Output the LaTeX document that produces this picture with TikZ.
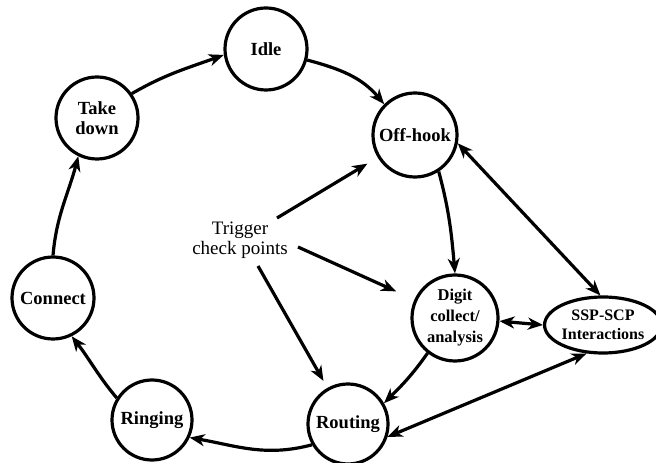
\documentclass[tikz,border=0pt]{standalone}
\usepackage{fontspec}
\setmainfont{Liberation Serif}
\usetikzlibrary{arrows.meta,shapes.geometric}
\begin{document}
\begin{tikzpicture}[x=1pt,y=1pt,
  state/.style={circle,draw,line width=3.2pt,minimum size=82pt,inner sep=0pt,
    align=center,font=\fontsize{18.5}{20}\selectfont\bfseries},
  smalltext/.style={font=\fontsize{16.5}{21}\selectfont\bfseries},
  tip/.tip={Stealth[length=15pt,width=12pt,inset=4.5pt]},
  arr/.style={line width=3.2pt,-tip},
  darr/.style={line width=3.2pt,tip-tip},
]
\useasboundingbox (0,0) rectangle (656,463);

% call-processing states
\node[state] (idle)     at (266,414) {Idle};
\node[state,minimum size=84pt] (offhook) at (415,328) {Off-hook};
\node[state,smalltext,minimum size=86pt] (digit) at (455,145) {Digit\\collect/\\analysis};
\node[state,minimum size=80pt] (routing)  at (348,39)  {Routing};
\node[state,minimum size=80pt] (ringing)  at (152,43)  {Ringing};
\node[state] (connect)  at (53,165)  {Connect};
\node[state] (takedown) at (97,345)  {Take\\down};

\node[ellipse,draw,line width=3.2pt,minimum width=101pt,minimum height=56pt,
  inner sep=0pt,align=center,font=\fontsize{16}{18.5}\selectfont\bfseries]
  (ssp) at (603,138) {SSP-SCP\\Interactions};

\node[align=center,font=\fontsize{19}{20}\selectfont] (trig) at (240,223)
  {Trigger\\check points};
\coordinate (t1) at (277,245);
\coordinate (t2) at (298,216);
\coordinate (t3) at (258,197);

% main cycle
\draw[arr] (idle.-15) to[out=-15,in=130] (offhook.135);
\draw[arr] (offhook.-57) to[out=-75,in=95] (digit.90);
\draw[arr] (digit.-128) to[out=-125,in=45] (routing.30);
\draw[arr] (routing.-150) to[out=195,in=-10] (ringing.-25);
\draw[arr] (ringing.148) to[out=130,in=-52] (connect.-64);
\draw[arr] (connect.90) to[out=85,in=-105] (takedown.-116);
\draw[arr] (takedown.35) to[out=30,in=200] (idle.188);

% SSP-SCP interactions
\draw[darr] (offhook.-11) -- (ssp.95);
\draw[darr] (digit.-4) -- (ssp.west);
\draw[darr] (ssp.240) -- (routing.-18);

% trigger check points
\draw[arr,shorten >=12pt] (t1) -- (offhook);
\draw[arr,shorten >=20pt] (t2) -- (digit);
\draw[arr,shorten >=8pt] (t3) -- (routing);
\end{tikzpicture}
\end{document}
